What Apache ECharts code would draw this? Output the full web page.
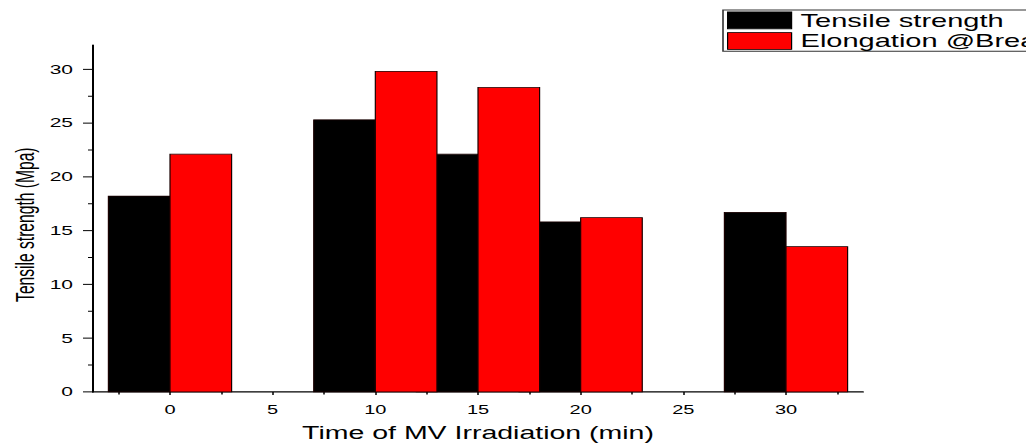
<!DOCTYPE html>
<html>
<head>
<meta charset="utf-8">
<script src="https://cdn.jsdelivr.net/npm/echarts@6/dist/echarts.min.js"></script>
<style>
  html, body { margin: 0; padding: 0; overflow: hidden; background: #fff; }
  #wrap { width: 1026px; height: 445px; overflow: hidden; }
  /* drawn tall, then squeezed vertically */
  #chart { width: 1026px; height: 712px; transform: scaleY(0.625); transform-origin: 0 0; }
</style>
</head>
<body>
<div id="wrap"><div id="chart"></div></div>
<script>
// Irradiation times (min) and the two measured properties
const times = [0, 10, 15, 20, 30];
const tensileStrength = [18.2, 25.3, 22.1, 15.8, 16.7];
const elongationAtBreak = [22.1, 29.8, 28.3, 16.2, 13.5];

// Axis tick positions
const xMajorTicks = [0, 5, 10, 15, 20, 25, 30];
const xMinorTicks = [-2.5, 2.5, 7.5, 12.5, 17.5, 22.5, 27.5, 32.5];
const yMajorTicks = [0, 5, 10, 15, 20, 25, 30];
const yMinorTicks = [2.5, 7.5, 12.5, 17.5, 22.5, 27.5];

const seriesNames = ['Tensile strength', 'Elongation @Break'];

const BAR_SPAN = 3; // bar width in minutes
const FONT = '"Liberation Sans", Arial, sans-serif';

function barRenderer(side) {
  // side = -1: bar sits left of the x value, +1: right of it
  return function (params, api) {
    const x = api.value(0);
    const v = api.value(1);
    const x0 = side < 0 ? x - BAR_SPAN : x;
    const x1 = side < 0 ? x : x + BAR_SPAN;
    const p0 = api.coord([x0, v]);
    const p1 = api.coord([x1, 0]);
    return {
      type: 'rect',
      shape: { x: p0[0], y: p0[1], width: p1[0] - p0[0], height: p1[1] - p0[1] },
      style: { fill: api.visual('color'), stroke: '#1a0000', lineWidth: 1.2 }
    };
  };
}

const chart = echarts.init(document.getElementById('chart'), null, { renderer: 'svg' });

const axisLine = { show: true, onZero: false, lineStyle: { color: '#000', width: 2 } };
const hiddenLine = { show: false, onZero: false };

chart.setOption({
  animation: false,
  backgroundColor: '#fff',
  grid: { left: 93, right: 163, top: 72, bottom: 85, containLabel: false },
  legend: {
    left: 723,
    top: 16,
    orient: 'vertical',
    icon: 'rect',
    itemWidth: 64,
    itemHeight: 27,
    itemGap: 4,
    padding: [2, 4, 2, 4],
    borderColor: '#333',
    borderWidth: 1.6,
    selectedMode: false,
    itemStyle: { borderColor: '#000', borderWidth: 1.2 },
    textStyle: { fontFamily: FONT, fontSize: 29, color: '#000', padding: [0, 0, 0, 4] },
    data: seriesNames
  },
  xAxis: [
    {
      type: 'value',
      min: -3.75,
      max: 33.75,
      name: 'Time of MV Irradiation (min)',
      nameLocation: 'middle',
      nameGap: 50,
      nameTextStyle: { fontFamily: FONT, fontSize: 28.5, color: '#000' },
      axisLine: axisLine,
      splitLine: { show: false },
      axisTick: { show: true, customValues: xMajorTicks, length: 5, lineStyle: { color: '#000', width: 1.5 } },
      axisLabel: { show: true, customValues: xMajorTicks, margin: 18, fontFamily: FONT, fontSize: 20, color: '#000' }
    },
    {
      type: 'value',
      min: -3.75,
      max: 33.75,
      position: 'bottom',
      offset: 0,
      axisLine: hiddenLine,
      splitLine: { show: false },
      axisTick: { show: true, customValues: xMinorTicks, length: 4, lineStyle: { color: '#000', width: 1.5 } },
      axisLabel: { show: false }
    }
  ],
  yAxis: [
    {
      type: 'value',
      min: 0,
      max: 32.25,
      position: 'left',
      name: 'Tensile strength (Mpa)',
      nameLocation: 'middle',
      nameGap: 55,
      nameTextStyle: { fontFamily: FONT, fontSize: 25, color: '#000', padding: [0, 20, 0, 0] },
      axisLine: axisLine,
      splitLine: { show: false },
      axisTick: { show: true, customValues: yMajorTicks, length: 10, lineStyle: { color: '#000', width: 1.6 } },
      axisLabel: { show: true, customValues: yMajorTicks, margin: 20, fontFamily: FONT, fontSize: 21, color: '#000' }
    },
    {
      type: 'value',
      min: 0,
      max: 32.25,
      position: 'left',
      offset: 0,
      axisLine: hiddenLine,
      splitLine: { show: false },
      axisTick: { show: true, customValues: yMinorTicks, length: 5, lineStyle: { color: '#000', width: 1.6 } },
      axisLabel: { show: false }
    }
  ],
  series: [
    {
      name: seriesNames[0],
      type: 'custom',
      xAxisIndex: 0,
      yAxisIndex: 0,
      itemStyle: { color: '#000000' },
      renderItem: barRenderer(-1),
      encode: { x: 0, y: 1 },
      data: times.map((t, i) => [t, tensileStrength[i]])
    },
    {
      name: seriesNames[1],
      type: 'custom',
      xAxisIndex: 0,
      yAxisIndex: 0,
      itemStyle: { color: '#ff0000' },
      renderItem: barRenderer(1),
      encode: { x: 0, y: 1 },
      data: times.map((t, i) => [t, elongationAtBreak[i]])
    }
  ]
});
</script>
</body>
</html>
